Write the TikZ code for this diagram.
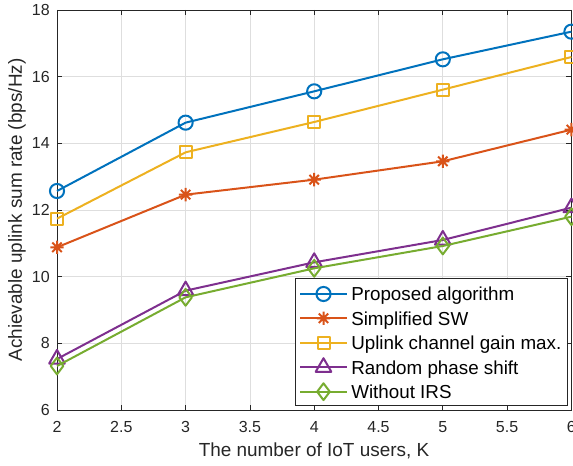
\documentclass[tikz,border=0pt]{standalone}
\usepackage{fontspec}
\setmainfont{Liberation Sans}
\usetikzlibrary{plotmarks}

\definecolor{axgray}{rgb}{0.15,0.15,0.15}
\definecolor{gridgray}{rgb}{0.87,0.87,0.87}
\definecolor{mblue}{rgb}{0,0.447,0.741}
\definecolor{morange}{rgb}{0.85,0.325,0.098}
\definecolor{myellow}{rgb}{0.929,0.694,0.125}
\definecolor{mpurple}{rgb}{0.494,0.184,0.556}
\definecolor{mgreen}{rgb}{0.466,0.674,0.188}

% MATLAB style asterisk (plus and cross)
\pgfdeclareplotmark{mstar}{%
  \pgfpathmoveto{\pgfqpoint{0pt}{\pgfplotmarksize}}%
  \pgfpathlineto{\pgfqpoint{0pt}{-\pgfplotmarksize}}%
  \pgfpathmoveto{\pgfqpoint{\pgfplotmarksize}{0pt}}%
  \pgfpathlineto{\pgfqpoint{-\pgfplotmarksize}{0pt}}%
  \pgfpathmoveto{\pgfqpoint{0.7071\pgfplotmarksize}{0.7071\pgfplotmarksize}}%
  \pgfpathlineto{\pgfqpoint{-0.7071\pgfplotmarksize}{-0.7071\pgfplotmarksize}}%
  \pgfpathmoveto{\pgfqpoint{0.7071\pgfplotmarksize}{-0.7071\pgfplotmarksize}}%
  \pgfpathlineto{\pgfqpoint{-0.7071\pgfplotmarksize}{0.7071\pgfplotmarksize}}%
  \pgfusepathqstroke}

\tikzset{
  gridline/.style={gridgray, line width=0.6pt},
  axisline/.style={axgray, line width=0.6pt},
  ticklbl/.style={text=axgray, inner sep=0pt, font=\fontsize{12}{14}\selectfont},
  axlbl/.style={text=axgray, inner sep=0pt, font=\fontsize{14.2}{17}\selectfont},
  legtext/.style={text=black, inner sep=0pt, anchor=base west, font=\fontsize{14.1}{17}\selectfont},
  legbox/.style={axgray, fill=white, line width=0.75pt},
  curve/.style={line width=1.5pt, line join=round, mark options={solid}},
  proposed/.style={curve, mblue, mark=o, mark size=5.3pt},
  simplesw/.style={curve, morange, mark=mstar, mark size=5pt},
  uplinkmax/.style={curve, myellow, mark=square, mark size=4.5pt},
  randomps/.style={curve, mpurple, mark=triangle, mark size=6.8pt},
  noirs/.style={curve, mgreen, mark=diamond, mark size=6.3pt}
}

\begin{document}
\begin{tikzpicture}[x=0.75pt,y=0.75pt]
	\useasboundingbox (0,0) rectangle (573,466);
	\begin{scope}[x=96.45pt,y=25pt,shift={(-150.15pt,-108pt)}]
		% grid and axes
		\foreach \x in {2.5,3,3.5,4,4.5,5,5.5} \draw[gridline] (\x,6) -- (\x,18);
		\foreach \y in {8,10,12,14,16} \draw[gridline] (2,\y) -- (6,\y);
		\draw[axisline] (2,6) rectangle (6,18);
		\foreach \x [count=\i] in {2,2.5,3,3.5,4,4.5,5,5.5,6} {
			\draw[axisline] (\x,6) -- ++(0,3.75pt);
			\draw[axisline] (\x,18) -- ++(0,-3.75pt);
			\node[ticklbl, anchor=base, yshift=-17.25pt] (xt\i) at (\x,6) {\x};
		}
		\foreach \y [count=\i] in {6,8,10,12,14,16,18} {
			\draw[axisline] (2,\y) -- ++(3.75pt,0);
			\draw[axisline] (6,\y) -- ++(-3.75pt,0);
			\node[ticklbl, anchor=east, xshift=-5.25pt] (yt\i) at (2,\y) {\y};
		}
		% curves
		\draw[proposed] plot coordinates {(2,12.57) (3,14.62) (4,15.56) (5,16.52) (6,17.35)};
		\draw[simplesw] plot coordinates {(2,10.88) (3,12.46) (4,12.91) (5,13.46) (6,14.41)};
		\draw[uplinkmax] plot coordinates {(2,11.74) (3,13.73) (4,14.64) (5,15.61) (6,16.59)};
		\draw[randomps] plot coordinates {(2,7.53) (3,9.58) (4,10.43) (5,11.1) (6,12.07)};
		\draw[noirs] plot coordinates {(2,7.32) (3,9.38) (4,10.25) (5,10.92) (6,11.8)};
	\end{scope}
	% axis labels
	\node[axlbl, rotate=90] (ylab) at (17,256) {Achievable uplink sum rate (bps/Hz)};
	\node[axlbl, anchor=base] (xlab) at (314,9) {The number of IoT users, K};
	% legend
	\draw[legbox] (295,60) rectangle (567,187);
	\draw[proposed, mark indices={2}] plot coordinates {(300,172) (323.5,172) (347,172)};
	\node[legtext] (leg1) at (351,165.2) {Proposed algorithm};
	\draw[simplesw, mark indices={2}] plot coordinates {(300,147.7) (323.5,147.7) (347,147.7)};
	\node[legtext] (leg2) at (351,140.9) {Simplified SW};
	\draw[uplinkmax, mark indices={2}] plot coordinates {(300,123.3) (323.5,123.3) (347,123.3)};
	\node[legtext] (leg3) at (351,116.5) {Uplink channel gain max.};
	\draw[randomps, mark indices={2}] plot coordinates {(300,98.7) (323.5,98.7) (347,98.7)};
	\node[legtext] (leg4) at (351,91.9) {Random phase shift};
	\draw[noirs, mark indices={2}] plot coordinates {(300,74.3) (323.5,74.3) (347,74.3)};
	\node[legtext] (leg5) at (351,67.5) {Without IRS};
\end{tikzpicture}
\end{document}
